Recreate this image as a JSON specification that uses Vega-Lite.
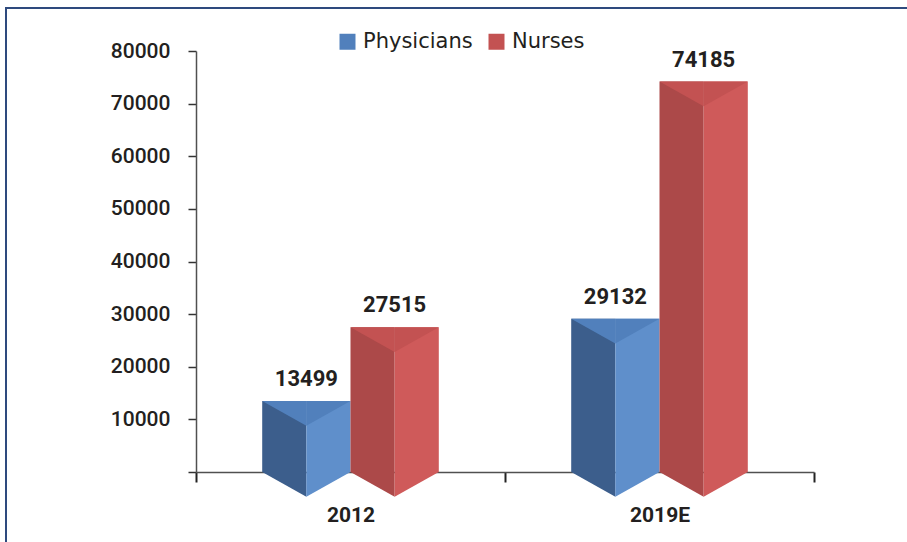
{
  "$schema": "https://vega.github.io/schema/vega-lite/v6.json",
  "autosize": {"type": "none"},
  "width": 904,
  "height": 537,
  "padding": {"left": 6, "top": 8, "right": -3, "bottom": -3},
  "background": "white",
  "config": {
    "view": {"stroke": "#2E4A7E", "strokeWidth": 2},
    "font": "Roboto"
  },
  "data": {
    "values": [
      {"year": "2012", "series": "Physicians", "value": 13499},
      {"year": "2012", "series": "Nurses", "value": 27515},
      {"year": "2019E", "series": "Physicians", "value": 29132},
      {"year": "2019E", "series": "Nurses", "value": 74185}
    ]
  },
  "encoding": {
    "x": {
      "field": "year",
      "type": "nominal",
      "sort": ["2012", "2019E"],
      "scale": {"range": [190, 808], "paddingInner": 0, "paddingOuter": 0},
      "axis": {
        "title": null,
        "orient": "bottom",
        "offset": -73,
        "tickBand": "extent",
        "tickSize": 10,
        "tickWidth": 2,
        "tickColor": "#222222",
        "domainColor": "#505050",
        "domainWidth": 1.5,
        "labelAngle": 0,
        "labelFont": "Roboto",
        "labelFontSize": 21,
        "labelFontWeight": "bold",
        "labelColor": "#231F20",
        "labelBaseline": "alphabetic",
        "labelPadding": 39
      }
    }
  },
  "layer": [
    {
      "transform": [
        {"calculate": "['L','R']", "as": "side"},
        {"flatten": ["side"]},
        {"calculate": "datum.series + '-' + datum.side", "as": "part"}
      ],
      "mark": {"type": "bar"},
      "encoding": {
        "xOffset": {
          "field": "part",
          "type": "nominal",
          "scale": {"type": "band", "domain": ["Physicians-L", "Physicians-R", "Nurses-L", "Nurses-R"], "range": [66.2, 242.8], "paddingInner": 0, "paddingOuter": 0}
        },
        "y": {
          "field": "value",
          "type": "quantitative",
          "title": null,
          "scale": {"domain": [0, 80000], "range": [464, 43], "nice": false},
          "axis": {
            "title": null,
            "offset": -190,
            "values": [0, 10000, 20000, 30000, 40000, 50000, 60000, 70000, 80000],
            "format": "d",
            "labelExpr": "datum.value == 0 ? '' : datum.label",
            "grid": false,
            "tickSize": 8,
            "tickWidth": 1.5,
            "tickColor": "#333333",
            "domainColor": "#505050",
            "domainWidth": 1.5,
            "labelFont": "Roboto",
            "labelFontSize": 21,
            "labelFontWeight": 500,
            "labelColor": "#231F20",
            "labelPadding": 18
          }
        },
        "color": {
          "field": "part",
          "type": "nominal",
          "scale": {"domain": ["Physicians-L", "Physicians-R", "Nurses-L", "Nurses-R"], "range": ["#3C5E8C", "#5F8FCB", "#AC4949", "#CF5A5A"]},
          "legend": null
        }
      }
    },
    {
      "transform": [
        {"calculate": "['L','R']", "as": "side"},
        {"flatten": ["side"]},
        {"calculate": "datum.series + '-' + datum.side", "as": "part"}
      ],
      "mark": {"type": "point", "filled": true, "opacity": 1, "size": 1950, "strokeWidth": 0},
      "encoding": {
        "xOffset": {
          "field": "part",
          "type": "nominal",
          "scale": {"type": "point", "domain": ["Physicians-L", "Physicians-R", "Nurses-L", "Nurses-R"], "range": [88.27, 220.72], "padding": 0}
        },
        "y": {"datum": 0, "type": "quantitative", "title": null},
        "shape": {
          "field": "side",
          "type": "nominal",
          "scale": {"domain": ["L", "R"], "range": ["M-1,0L1,0L1,1.12Z", "M-1,0L1,0L-1,1.12Z"]},
          "legend": null
        },
        "color": {
          "field": "part",
          "type": "nominal",
          "scale": {"domain": ["Physicians-L", "Physicians-R", "Nurses-L", "Nurses-R"], "range": ["#3C5E8C", "#5F8FCB", "#AC4949", "#CF5A5A"]},
          "legend": null
        }
      }
    },
    {
      "transform": [
        {"calculate": "['L','R']", "as": "side"},
        {"flatten": ["side"]},
        {"calculate": "datum.series + '-' + datum.side", "as": "part"}
      ],
      "mark": {"type": "point", "filled": true, "opacity": 1, "size": 1950, "strokeWidth": 0},
      "encoding": {
        "xOffset": {
          "field": "part",
          "type": "nominal",
          "scale": {"type": "point", "domain": ["Physicians-L", "Physicians-R", "Nurses-L", "Nurses-R"], "range": [88.27, 220.72], "padding": 0}
        },
        "y": {"field": "value", "type": "quantitative", "title": null},
        "shape": {
          "field": "side",
          "type": "nominal",
          "scale": {"domain": ["L", "R"], "range": ["M-1,0L1,0L1,1.12Z", "M-1,0L1,0L-1,1.12Z"]},
          "legend": null
        },
        "color": {
          "field": "series",
          "type": "nominal",
          "scale": {"domain": ["Physicians", "Nurses"], "range": ["#5180BC", "#C35252"]},
          "legend": {
            "orient": "none",
            "legendX": 331,
            "legendY": 23,
            "direction": "horizontal",
            "title": null,
            "padding": 0,
            "symbolType": "square",
            "symbolSize": 256,
            "symbolStrokeWidth": 0,
            "symbolOpacity": 1,
            "labelFont": "DejaVu Sans",
            "labelFontSize": 21,
            "labelColor": "#231F20",
            "labelOffset": 5,
            "columnPadding": 13
          }
        }
      }
    },
    {
      "mark": {"type": "text", "font": "Roboto", "fontSize": 22, "fontWeight": "bold", "color": "#231F20", "baseline": "alphabetic", "dy": -15},
      "encoding": {
        "xOffset": {
          "field": "series",
          "type": "nominal",
          "scale": {"type": "point", "domain": ["Physicians", "Nurses"], "range": [110.35, 198.65], "padding": 0}
        },
        "y": {"field": "value", "type": "quantitative", "title": null},
        "text": {"field": "value", "type": "quantitative", "format": "d"}
      }
    }
  ],
  "resolve": {"scale": {"color": "independent", "xOffset": "independent"}}
}
